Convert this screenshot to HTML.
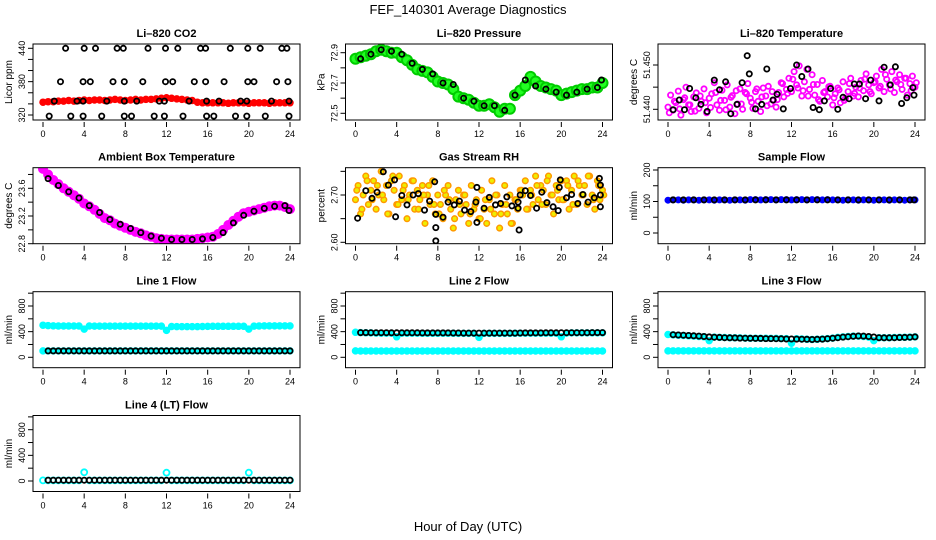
<!DOCTYPE html>
<html><head><meta charset="utf-8"><style>
html,body{margin:0;padding:0;background:#fff}
svg{display:block;font-family:"Liberation Sans",Arial,sans-serif}
</style></head><body>
<svg id="c" width="936" height="540" viewBox="0 0 936 540" xmlns="http://www.w3.org/2000/svg">
<text x="468" y="14" text-anchor="middle" font-size="13">FEF_140301  Average Diagnostics</text>
<text x="468" y="531" text-anchor="middle" font-size="13">Hour of Day (UTC)</text>
</svg>
<script>
const xTicks=[0,4,8,12,16,20,24];
// CO2
const co2Red=[343,344,344,345,345,346,345,346,347,346,347,347,346,347,348,347,346,347,348,347,348,348,349,350,351,350,349,348,347,346,343,342,342,342,342,342,341,342,342,342,341,342,342,342,341,342,342,342,342];
const co2BlkT=[2.2,4.0,5.1,7.2,7.8,10.2,11.9,13.1,15.3,15.8,18.2,19.9,21.1,23.2,23.7, 1.7,3.9,4.6,6.8,7.9,9.7,11.9,12.6,14.7,15.8,17.6,19.9,20.5,22.7,23.8, 1.1,3.3,3.9,6.2,7.9,9.1,11.3,11.8,14.2,15.9,17.1,19.2,19.8,22.2,23.9, 0.6,2.7,3.9,5.7,7.9,8.6,10.8,11.8,13.6,15.9,16.6,18.7,19.8,21.6,23.9];
const co2BlkV=[440,440,440,440,440,440,440,440,440,440,440,440,440,440,440, 380,380,380,380,380,380,380,380,380,380,380,380,380,380,380, 345,345,345,345,345,345,345,345,345,345,345,345,345,345,345, 318,318,318,318,318,318,318,318,318,318,318,318,318,318,318];
// Pressure
const presGreen=[72.86,72.87,72.88,72.89,72.91,72.92,72.91,72.90,72.90,72.87,72.85,72.82,72.79,72.78,72.77,72.74,72.71,72.70,72.69,72.66,72.61,72.60,72.59,72.57,72.55,72.55,72.56,72.54,72.51,72.53,72.53,72.62,72.65,72.68,72.74,72.71,72.68,72.67,72.66,72.65,72.62,72.63,72.64,72.65,72.66,72.66,72.67,72.67,72.70];
const presBlkT=[0.5,1.5,2.5,3.5,4.5,5.5,6.5,7.5,8.5,9.5,10.5,11.5,12.5,13.5,14.5,15.5,16.5,17.5,18.5,19.5,20.5,21.5,22.5,23.5,23.9];
const presBlkV=[72.86,72.89,72.92,72.91,72.89,72.83,72.79,72.76,72.70,72.69,72.60,72.58,72.55,72.55,72.52,72.62,72.72,72.68,72.66,72.64,72.62,72.64,72.66,72.67,72.72];
// Li-820 temperature
const ltMag=[51.4405,51.4432,51.4398,51.4415,51.4441,51.4387,51.4422,51.4450,51.4410,
51.4395,51.4428,51.4437,51.4402,51.4418,51.4446,51.4392,51.4425,
51.4435,51.4460,51.4410,51.4398,51.4443,51.4420,51.4455,51.4405,
51.4431,51.4390,51.4412,51.4446,51.4400,51.4438,51.4458,51.4425,
51.4402,51.4440,51.4418,51.4395,51.4448,51.4430,51.4452,51.4412,
51.4420,51.4405,51.4438,51.4460,51.4428,51.4445,51.4470,51.4440,
51.4485,51.4455,51.4498,51.4430,51.4462,51.4490,51.4445,51.4478,
51.4432,51.4456,51.4418,51.4465,51.4440,51.4428,51.4452,51.4410,
51.4435,51.4448,51.4415,51.4462,51.4425,51.4440,51.4470,51.4430,
51.4450,51.4428,51.4465,51.4442,51.4480,51.4455,51.4435,51.4460,
51.4475,51.4448,51.4490,51.4440,51.4468,51.4455,51.4485,51.4438,
51.4462,51.4478,51.4445,51.4470,51.4432,51.4458,51.4475,51.4450];
const ltMag2=[51.4392,51.4418,51.4401,51.4426,51.4410,51.4396,51.4430,51.4415,51.4404,51.4438,51.4420,51.4399,51.4427,51.4442,51.4412,51.4435,51.4416,51.4446,51.4428,51.4408,51.4440,51.4422,51.4458,51.4436,51.4468,51.4448,51.4442,51.4430,51.4456,51.4422,51.4438,51.4451,51.4426,51.4444,51.4420,51.4458,51.4436,51.4448,51.4468,51.4440,51.4462,51.4452,51.4478,51.4446,51.4466,51.4456,51.4470,51.4442,51.4460];
const ltBlkT=[0.5,1.1,1.6,2.1,2.7,3.2,3.8,4.5,5.0,5.6,6.1,6.7,7.2,7.7,7.9,8.5,9.1,9.6,10.2,10.6,11.2,11.9,12.5,13.0,13.6,14.1,14.7,15.2,15.8,16.5,17.0,17.6,18.1,18.6,19.2,19.7,20.5,21.0,21.6,22.1,22.7,23.2,23.8,23.9];
const ltBlkV=[51.4399,51.4421,51.4399,51.4447,51.4426,51.4411,51.4395,51.4466,51.4444,51.4462,51.4390,51.4411,51.4460,51.4521,51.4480,51.4401,51.4411,51.4491,51.4421,51.4434,51.4401,51.4447,51.4500,51.4474,51.4491,51.4404,51.4399,51.4419,51.4447,51.4400,51.4427,51.4424,51.4457,51.4457,51.4424,51.4466,51.4419,51.4495,51.4455,51.4496,51.4413,51.4426,51.4449,51.4432];
// Ambient box temperature
const ambMag=[23.88,23.80,23.72,23.66,23.60,23.55,23.50,23.45,23.38,23.34,23.29,23.23,23.17,23.14,23.09,23.06,23.03,23.00,22.97,22.95,22.92,22.90,22.88,22.87,22.86,22.86,22.86,22.86,22.86,22.86,22.87,22.88,22.89,22.90,22.94,23.00,23.07,23.13,23.19,23.24,23.26,23.28,23.30,23.32,23.34,23.35,23.35,23.33,23.30];
const ambBlk=[23.74,23.64,23.55,23.46,23.35,23.25,23.15,23.08,23.02,22.96,22.91,22.88,22.86,22.86,22.86,22.87,22.89,22.96,23.10,23.21,23.27,23.31,23.34,23.35,23.28];
// Gas stream RH
const rhOrange=[2.69,2.72,2.66,2.70,2.74,2.68,2.71,2.73,2.67,
2.70,2.75,2.69,2.72,2.66,2.73,2.71,2.68,
2.74,2.69,2.72,2.65,2.70,2.73,2.67,2.71,
2.69,2.72,2.64,2.70,2.68,2.73,2.66,2.70,
2.68,2.65,2.70,2.72,2.67,2.63,2.69,2.71,
2.66,2.70,2.68,2.64,2.72,2.67,2.69,2.65,
2.71,2.67,2.64,2.69,2.73,2.66,2.70,2.63,
2.68,2.72,2.66,2.70,2.64,2.69,2.67,2.71,
2.70,2.73,2.67,2.71,2.68,2.74,2.69,2.72,
2.71,2.68,2.74,2.70,2.66,2.72,2.69,2.73,
2.69,2.73,2.67,2.71,2.74,2.68,2.72,2.70,
2.72,2.68,2.74,2.70,2.67,2.73,2.69,2.71];
const rhOrange2=[2.71,2.67,2.73,2.69,2.72,2.70,2.66,2.74,2.68,2.71,2.69,2.73,2.67,2.70,2.72,2.68,2.66,2.71,2.69,2.65,2.68,2.70,2.66,2.68,2.65,2.69,2.67,2.70,2.66,2.68,2.64,2.69,2.71,2.67,2.70,2.72,2.68,2.73,2.70,2.71,2.69,2.72,2.68,2.73,2.70,2.74,2.69,2.72,2.70];
const rhBlkT=[0.2,1.0,1.6,2.1,2.7,3.2,3.8,3.9,4.5,5.0,5.6,6.1,6.7,7.2,7.7,7.8,7.8,7.8,8.5,9.0,9.6,10.1,10.6,11.2,11.7,11.8,11.8,12.5,13.0,13.6,14.1,14.7,15.2,15.8,15.8,15.9,16.0,16.5,17.0,17.6,18.1,18.6,19.2,19.7,19.8,19.9,20.5,21.0,21.6,22.1,22.6,23.2,23.7,23.8,23.8,23.8];
const rhBlkV=[2.651,2.709,2.693,2.706,2.749,2.721,2.732,2.654,2.699,2.679,2.700,2.703,2.668,2.687,2.728,2.659,2.631,2.603,2.653,2.685,2.679,2.687,2.668,2.665,2.685,2.716,2.642,2.672,2.695,2.679,2.682,2.696,2.677,2.672,2.685,2.626,2.700,2.709,2.699,2.672,2.706,2.684,2.675,2.667,2.716,2.732,2.694,2.701,2.682,2.701,2.685,2.694,2.735,2.721,2.700,2.675];
// Sample flow
const sfBlue=[104,105,105,104,105,105,104,105,105,104,105,105,104,105,105,104,106,106,105,106,106,105,106,106,105,106,106,105,106,106,105,106,105,105,104,105,105,104,105,105,104,105,105,104,105,105,104,105,105];
const sfBlk=[105,105,105,105,105,105,105,105,105,105,105,105,105,105,105,105,105,105,105,105,105,105,105,105,105];
// Line 1
const l1CyanHi=[500,495,490,488,488,488,488,488,440,488,487,487,487,487,487,487,486,486,486,486,486,486,486,486,420,480,478,478,478,478,478,480,482,484,484,484,484,484,484,484,440,486,488,490,490,490,490,490,490];
const l1CyanLo=[100,100,100,100,100,100,100,100,100,100,100,100,100,100,100,100,100,100,100,100,100,100,100,100,100,100,100,100,100,100,100,100,100,100,100,100,100,100,100,100,100,100,100,100,100,100,100,100,100];
const l1Blk=[100,100,100,100,100,100,100,100,100,100,100,100,100,100,100,100,100,100,100,100,100,100,100,100,100,100,100,100,100,100,100,100,100,100,100,100,100,100,100,100,100,100,100,100,100,100,100,100];
// Line 2
const l2CyanHi=[390,385,382,380,378,376,376,376,320,376,376,376,376,375,375,375,374,374,374,374,372,372,372,372,310,372,372,372,372,372,372,374,376,376,376,376,376,376,376,376,320,378,380,380,380,380,380,380,380];
const l2CyanLo=[100,98,98,98,98,98,98,98,98,98,98,98,98,98,98,98,98,98,98,98,98,98,98,98,98,98,98,98,98,98,98,98,98,98,98,98,98,98,98,98,98,98,98,98,98,98,98,98,98];
const l2Blk=[385,385,384,384,383,383,382,382,382,382,382,382,381,381,381,380,380,380,379,379,378,378,378,378,378,378,378,378,378,378,378,379,380,380,381,381,382,382,382,383,383,383,384,384,384,385,385,385];
// Line 3
const l3CyanHi=[355,350,345,340,335,330,325,320,260,315,310,308,306,304,302,300,298,298,296,296,294,294,292,292,220,290,285,280,278,280,285,292,300,310,318,325,330,330,325,315,260,305,305,306,308,310,312,315,318];
const l3CyanLo=[100,100,100,100,100,100,100,100,100,100,100,100,100,100,100,100,100,100,100,100,100,100,100,100,100,100,100,100,100,100,100,100,100,100,100,100,100,100,100,100,100,100,100,100,100,100,100,100,100];
const l3Blk=[352,348,344,340,336,330,324,318,314,310,306,304,302,300,298,296,295,294,292,292,290,288,286,285,284,282,280,278,280,284,290,298,306,315,322,328,332,330,324,316,306,304,304,306,308,310,314,318];
// Line 4
const l4Cyan=[10,10,10,10,10,10,10,10,135,10,10,10,10,10,10,10,10,10,10,10,10,10,10,10,130,10,10,10,10,10,10,10,10,10,10,10,10,10,10,10,130,10,10,10,10,10,10,10,10];
const l4Blk=[12,12,12,12,12,12,12,12,12,12,12,12,12,12,12,12,12,12,12,12,12,12,12,12,12,12,12,12,12,12,12,12,12,12,12,12,12,12,12,12,12,12,12,12,12,12,12,12];

const svg=document.getElementById('c');
const NS='http://www.w3.org/2000/svg';
const colL=[33,345.5,658], rowT=[44,167.7,291.7,415.5], W=267, H=76;
function mk(tag,attrs,parent){const e=document.createElementNS(NS,tag);for(const k in attrs)e.setAttribute(k,attrs[k]);parent.appendChild(e);return e;}
function stepT(n,start,step){const a=[];for(let i=0;i<n;i++)a.push(start+i*step);return a;}

function panel(name,col,row,title,ylab,vA,pA,vB,pB,ticks,labels,series){
  const L=colL[col],T=rowT[row];
  const g=mk('g',{},svg);
  
  
  const xs=t=>L+10+t*247/24;
  const ys=v=>pA+(v-vA)*(pB-pA)/(vB-vA);
  const tt=mk('text',{x:L+W/2,y:T-7,'text-anchor':'middle','font-size':11,'font-weight':'bold'},g);
  tt.textContent=title;
  
  
  const yl=mk('text',{transform:`translate(${L-21},${T+H/2}) rotate(-90)`,'text-anchor':'middle','font-size':10},g);
  yl.textContent=ylab;
  
  
  const clip='clip-'+name;
  const cp=mk('clipPath',{id:clip},g);mk('rect',{x:L,y:T,width:W,height:H},cp);
  const pg=mk('g',{'clip-path':`url(#${clip})`},g);
  series.forEach(s=>{
    s.v.forEach((v,i)=>{
      const c=mk('circle',{cx:xs(s.t[i]).toFixed(1),cy:ys(v).toFixed(1),r:s.r,fill:s.fill||'none',stroke:s.stroke,'stroke-width':s.sw},pg);
      
      
    });
  });
  const box=mk('rect',{x:L,y:T,width:W,height:H,fill:'none',stroke:'#000','stroke-width':1},g);
  
  
  xTicks.forEach(t=>{
    mk('line',{x1:xs(t),x2:xs(t),y1:T+H+2,y2:T+H+7,stroke:'#000'},g);
    const lb=mk('text',{x:xs(t),y:T+H+17,'text-anchor':'middle','font-size':9},g);
    lb.textContent=t;
    
    
  });
  ticks.forEach(v=>{
    const y=ys(v);
    mk('line',{x1:L-5,x2:L,y1:y,y2:y,stroke:'#000'},g);
  });
  labels.forEach(v=>{
    const y=ys(parseFloat(v));
    const lb=mk('text',{transform:`translate(${L-8},${y}) rotate(-90)`,'text-anchor':'middle','font-size':9},g);
    lb.textContent=v;
    
    
  });
}
const half=stepT(49,0,0.5), quarter=stepT(97,0,0.25), hourB=stepT(24,0.5,1).concat([23.9]), halfB=stepT(48,0.5,0.5);
const flowTicks=[0,200,400,600,800,1000], flowLabels=['0','400','800'];

panel('co2',0,0,'Li\u2013820 CO2','Licor ppm',440,48.3,320,115,[320,340,360,380,400,420,440],['320','380','440'],[
 {id:'red',t:half,v:co2Red,stroke:'#f00',fill:'#f00',r:3,sw:1.5},
 {id:'black',t:co2BlkT,v:co2BlkV,stroke:'#000',r:2.6,sw:1.8}]);
panel('pressure',1,0,'Li\u2013820 Pressure','kPa',72.9,52.7,72.5,113.3,[72.5,72.6,72.7,72.8,72.9],['72.5','72.7','72.9'],[
 {id:'green',t:half,v:presGreen,stroke:'#0c0',fill:'#2f2',r:5,sw:2},
 {id:'black',t:presBlkT,v:presBlkV,stroke:'#000',r:2.6,sw:1.8}]);
panel('li-temp',2,0,'Li\u2013820 Temperature','degrees C',51.450,65,51.440,109.3,[51.440,51.445,51.450],['51.440','51.450'],[
 {id:'magenta',t:quarter,v:ltMag,stroke:'#f0f',r:2.6,sw:1.8},
 {id:'magenta2',t:stepT(49,0.125,0.5),v:ltMag2,stroke:'#f0f',r:2.6,sw:1.8},
 {id:'black',t:ltBlkT,v:ltBlkV,stroke:'#000',r:2.6,sw:1.8}]);
panel('ambient-temp',0,1,'Ambient Box Temperature','degrees C',23.6,188.3,22.8,243.7,[22.8,23.0,23.2,23.4,23.6,23.8],['22.8','23.2','23.6'],[
 {id:'magenta',t:half,v:ambMag,stroke:'#f0f',fill:'#f0f',r:4.5,sw:1},
 {id:'black',t:hourB,v:ambBlk,stroke:'#000',r:2.6,sw:1.8}]);
panel('rh',1,1,'Gas Stream RH','percent',2.70,195,2.60,242.3,[2.60,2.65,2.70,2.75],['2.60','2.70'],[
 {id:'orange',t:quarter,v:rhOrange,stroke:'#f90',fill:'#ee0',r:2.8,sw:1.5},
 {id:'orange2',t:stepT(49,0.125,0.5),v:rhOrange2,stroke:'#f90',fill:'#ee0',r:2.8,sw:1.5},
 {id:'black',t:rhBlkT,v:rhBlkV,stroke:'#000',r:2.6,sw:1.8}]);
panel('sample-flow',2,1,'Sample Flow','ml/min',0,233,200,170,[0,50,100,150,200],['0','100','200'],[
 {id:'blue',t:half,v:sfBlue,stroke:'#00f',fill:'#00f',r:3,sw:1},
 {id:'black',t:hourB,v:sfBlk,stroke:'#000',r:2.6,sw:1.8}]);
panel('line1-flow',0,2,'Line 1 Flow','ml/min',0,357.3,800,306,flowTicks,flowLabels,[
 {id:'cyan-high',t:half,v:l1CyanHi,stroke:'#0ff',fill:'#0ff',r:3,sw:1.5},
 {id:'cyan-low',t:half,v:l1CyanLo,stroke:'#0ff',fill:'#0ff',r:3,sw:1.5},
 {id:'black',t:halfB,v:l1Blk,stroke:'#000',r:2.6,sw:1.8}]);
panel('line2-flow',1,2,'Line 2 Flow','ml/min',0,357.3,800,306,flowTicks,flowLabels,[
 {id:'cyan-high',t:half,v:l2CyanHi,stroke:'#0ff',fill:'#0ff',r:3,sw:1.5},
 {id:'cyan-low',t:half,v:l2CyanLo,stroke:'#0ff',fill:'#0ff',r:3,sw:1.5},
 {id:'black',t:halfB,v:l2Blk,stroke:'#000',r:2.6,sw:1.8}]);
panel('line3-flow',2,2,'Line 3 Flow','ml/min',0,357.3,800,306,flowTicks,flowLabels,[
 {id:'cyan-high',t:half,v:l3CyanHi,stroke:'#0ff',fill:'#0ff',r:3,sw:1.5},
 {id:'cyan-low',t:half,v:l3CyanLo,stroke:'#0ff',fill:'#0ff',r:3,sw:1.5},
 {id:'black',t:halfB,v:l3Blk,stroke:'#000',r:2.6,sw:1.8}]);
panel('line4-flow',0,3,'Line 4 (LT) Flow','ml/min',0,481,800,429.7,flowTicks,flowLabels,[
 {id:'cyan',t:half,v:l4Cyan,stroke:'#0ff',r:3,sw:1.8},
 {id:'black',t:halfB,v:l4Blk,stroke:'#000',r:2.6,sw:1.8}]);
</script>
</body></html>
